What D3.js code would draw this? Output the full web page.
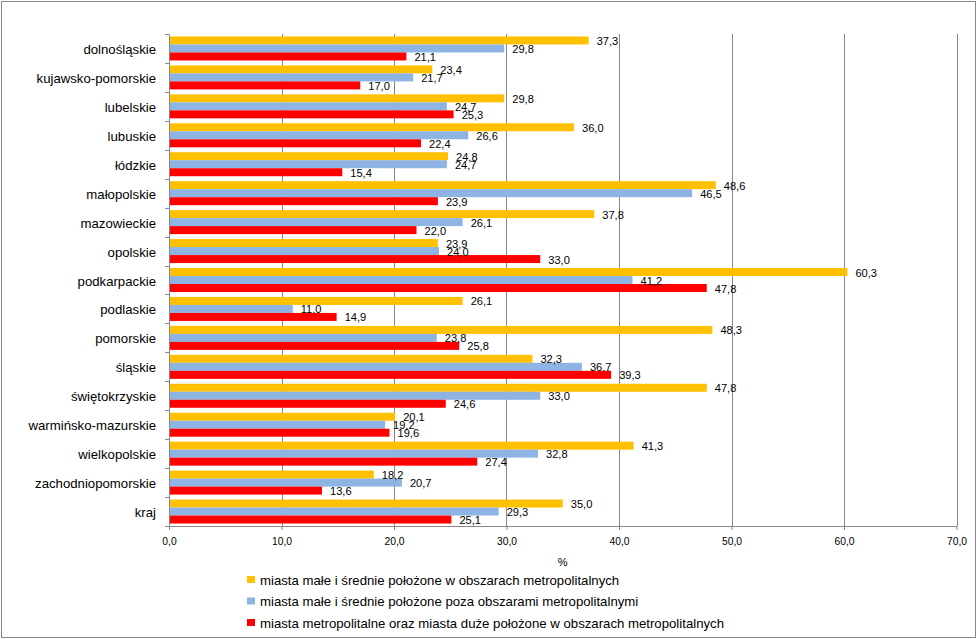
<!DOCTYPE html>
<html>
<head>
<meta charset="utf-8">
<script src="https://cdn.jsdelivr.net/npm/d3@7"></script>
<style>
  html, body { margin: 0; padding: 0; background: #fff; }
  svg { display: block; font-family: "Liberation Sans", Arial, sans-serif; }
</style>
</head>
<body>
<svg id="chart" width="977" height="639"></svg>
<script>
const categories = ["dolnośląskie","kujawsko-pomorskie","lubelskie","lubuskie","łódzkie","małopolskie","mazowieckie","opolskie","podkarpackie","podlaskie","pomorskie","śląskie","świętokrzyskie","warmińsko-mazurskie","wielkopolskie","zachodniopomorskie","kraj"];
const seriesNames = [
  "miasta małe i średnie położone w obszarach metropolitalnych",
  "miasta małe i średnie położone poza obszarami metropolitalnymi",
  "miasta metropolitalne oraz miasta duże położone w obszarach metropolitalnych"
];
const smallMetro   = [37.3,23.4,29.8,36.0,24.8,48.6,37.8,23.9,60.3,26.1,48.3,32.3,47.8,20.1,41.3,18.2,35.0];
const smallOutside = [29.8,21.7,24.7,26.6,24.7,46.5,26.1,24.0,41.2,11.0,23.8,36.7,33.0,19.2,32.8,20.7,29.3];
const metroLarge   = [21.1,17.0,25.3,22.4,15.4,23.9,22.0,33.0,47.8,14.9,25.8,39.3,24.6,19.6,27.4,13.6,25.1];
const xTicks = [0,10,20,30,40,50,60,70];
const axisTitle = "%";
const colors = ["#FFC000","#8DB4E2","#FF0000"];

const seriesValues = [smallMetro, smallOutside, metroLarge];
const fmt = v => v.toFixed(1).replace(".", ",");

const svg = d3.select("#chart");
const W = 977, H = 639;
const plot = {left: 169, right: 956.5, top: 34, bottom: 526};
const gridColor = "#878787";

// outer border
svg.append("rect").attr("x", 1.5).attr("y", 1.5).attr("width", W - 3).attr("height", H - 3)
  .attr("fill", "#fff").attr("stroke", gridColor).attr("stroke-width", 1);

const x = d3.scaleLinear().domain([0, 70]).range([plot.left, plot.right]);
const step = (plot.bottom - plot.top) / categories.length;
const pad = 1 - 24 / step;
const y = d3.scaleBand().domain(categories).range([plot.top, plot.bottom])
  .paddingInner(pad).paddingOuter(pad / 2);
const y1 = d3.scaleBand().domain([0,1,2]).range([0, y.bandwidth()]);

// gridlines
svg.append("g").selectAll("line").data(xTicks.slice(1)).join("line")
  .attr("x1", d => Math.round(x(d)) + 0.5).attr("x2", d => Math.round(x(d)) + 0.5)
  .attr("y1", plot.top).attr("y2", plot.bottom)
  .attr("stroke", gridColor).attr("stroke-width", 1);

// bars
const groups = svg.append("g").selectAll("g").data(categories).join("g")
  .attr("transform", c => `translate(0,${y(c)})`);
groups.each(function(c, i) {
  const g = d3.select(this);
  seriesValues.forEach((vals, s) => {
    g.append("rect")
      .attr("x", x(0))
      .attr("y", y1(s))
      .attr("width", x(vals[i]) - x(0))
      .attr("height", y1.bandwidth())
      .attr("fill", colors[s]);
  });
});
// labels
groups.each(function(c, i) {
  const g = d3.select(this);
  seriesValues.forEach((vals, s) => {
    g.append("text")
      .attr("x", x(vals[i]) + 8)
      .attr("y", y1(s) + y1.bandwidth() / 2 + 0.5)
      .attr("dominant-baseline", "central")
      .attr("font-size", "11.1px")
      .attr("fill", "#000")
      .text(fmt(vals[i]));
  });
});

// x axis
const xAxis = d3.axisBottom(x).tickValues(xTicks).tickFormat(fmt).tickSize(4).tickSizeOuter(0);
const gx = svg.append("g").attr("transform", `translate(0,${plot.bottom})`).call(xAxis);
gx.select(".domain").attr("stroke", gridColor);
gx.selectAll(".tick line").attr("stroke", gridColor);
gx.selectAll(".tick text").attr("font-family", "Liberation Sans, Arial, sans-serif")
  .attr("font-size", "10.3px").attr("fill", "#000").attr("y", 12);

// y axis
const yAxis = d3.axisLeft(y).tickSize(0).tickPadding(13);
const gy = svg.append("g").attr("transform", `translate(${plot.left},0)`).call(yAxis);
gy.select(".domain").attr("stroke", gridColor);
gy.selectAll(".tick text").attr("font-family", "Liberation Sans, Arial, sans-serif")
  .attr("font-size", "13.2px").attr("fill", "#000").attr("dy", "0.42em");
// category separator ticks
const sepY = categories.map(c => y(c) - y.step() * y.paddingInner() / 2).concat([plot.bottom]);
svg.append("g").selectAll("line").data(sepY).join("line")
  .attr("x1", plot.left - 4).attr("x2", plot.left)
  .attr("y1", d => Math.round(d) + 0.5).attr("y2", d => Math.round(d) + 0.5)
  .attr("stroke", gridColor);

// axis title
svg.append("text").attr("x", (plot.left + plot.right) / 2).attr("y", 562)
  .attr("text-anchor", "middle").attr("dominant-baseline", "central")
  .attr("font-size", "11px").attr("fill", "#000").text(axisTitle);

// legend
const legend = svg.append("g").selectAll("g").data(seriesNames).join("g")
  .attr("transform", (d, i) => `translate(247,${580 + i * 21.5})`);
legend.append("rect").attr("x", 0).attr("y", -4).attr("width", 8).attr("height", 7)
  .attr("fill", (d, i) => colors[i]);
legend.append("text").attr("x", 13).attr("y", 0).attr("dominant-baseline", "central")
  .attr("font-size", "13.2px").attr("fill", "#000").text(d => d);
</script>
</body>
</html>
